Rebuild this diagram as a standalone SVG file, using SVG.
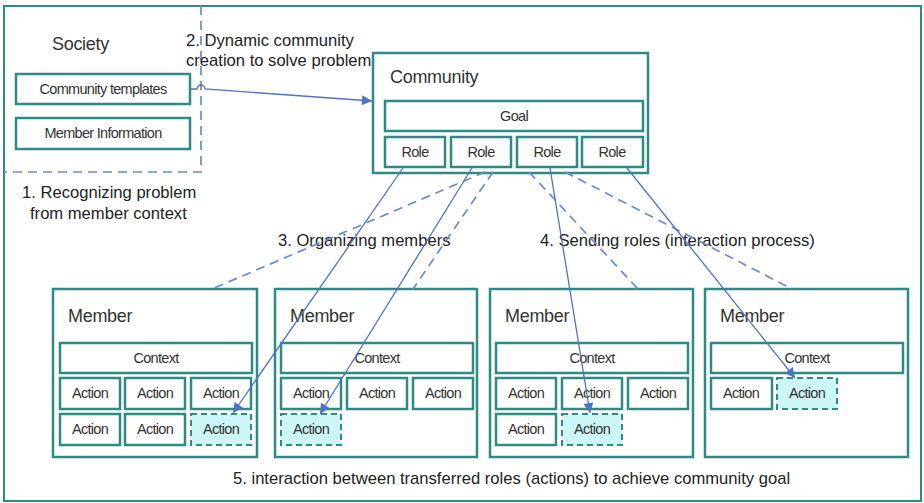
<svg xmlns="http://www.w3.org/2000/svg" width="924" height="503" viewBox="0 0 924 503">
<defs>
<style>
.frame{fill:#fff;stroke:#2e8a84;stroke-width:2}
.box{fill:#fff;stroke:#2e8a84;stroke-width:2.5}
.sel{fill:#cdf7f7;stroke:#2e8a84;stroke-width:2;stroke-dasharray:6 4}
.lbl{font-family:"Liberation Sans",Arial,sans-serif;fill:#333;font-size:14.5px;letter-spacing:-0.7px;text-anchor:middle}
.title{font-family:"Liberation Sans",Arial,sans-serif;fill:#333;font-size:18px;letter-spacing:-0.3px}
.note{font-family:"Liberation Sans",Arial,sans-serif;fill:#222;font-size:16.6px}
.solid{fill:none;stroke:#4d73c2;stroke-width:1.3}
.dash{fill:none;stroke:#6a8bcc;stroke-width:1.7;stroke-dasharray:9 6}
</style>
<marker id="ah" viewBox="0 0 10 10" refX="10" refY="5" markerWidth="14" markerHeight="10" markerUnits="userSpaceOnUse" orient="auto">
<path d="M0,0 L10,5 L0,10 z" fill="#4d73c2"/>
</marker>
</defs>
<rect x="0" y="0" width="924" height="503" fill="#fff"/>
<rect class="frame" x="4" y="6" width="917" height="495"/>

<g id="society">
<path class="dash" d="M201,6 V172 H4"/>
<text class="title" x="52" y="50">Society</text>
</g>
<g id="community-templates">
<rect class="box" x="16" y="74" width="174" height="30"/>
<text class="lbl" x="103" y="94">Community templates</text>
</g>
<g id="member-information">
<rect class="box" x="16" y="118" width="174" height="31"/>
<text class="lbl" x="103" y="138">Member Information</text>
</g>

<g id="labels">
<text class="note" x="186" y="46">2. Dynamic community</text>
<text class="note" x="186" y="66">creation to solve problem</text>
<text class="note" x="22" y="198">1. Recognizing problem</text>
<text class="note" x="30" y="219">from member context</text>
<text class="note" x="278" y="246">3. Organizing members</text>
<text class="note" x="540" y="246">4. Sending roles (interaction process)</text>
<text class="note" x="233" y="484">5. interaction between transferred roles (actions) to achieve community goal</text>
</g>

<g id="community">
<rect class="box" x="373" y="53" width="275" height="120"/>
<text class="title" x="390" y="83">Community</text>
<rect class="box" x="385" y="101" width="258" height="30"/>
<text class="lbl" x="514" y="121">Goal</text>
<rect class="box" x="385" y="137" width="60" height="30"/>
<text class="lbl" x="415" y="157">Role</text>
<rect class="box" x="451" y="137" width="60" height="30"/>
<text class="lbl" x="481" y="157">Role</text>
<rect class="box" x="517" y="137" width="60" height="30"/>
<text class="lbl" x="547" y="157">Role</text>
<rect class="box" x="582" y="137" width="61" height="30"/>
<text class="lbl" x="612" y="157">Role</text>
</g>

<g id="member1">
<rect class="box" x="53" y="289" width="204" height="168"/>
<text class="title" x="68" y="322">Member</text>
<rect class="box" x="60" y="343" width="192" height="30"/>
<text class="lbl" x="156" y="363">Context</text>
<rect class="box" x="60" y="378" width="60" height="31"/><text class="lbl" x="90" y="398">Action</text>
<rect class="box" x="125" y="378" width="60" height="31"/><text class="lbl" x="155" y="398">Action</text>
<rect class="box" x="191" y="378" width="60" height="31"/><text class="lbl" x="221" y="398">Action</text>
<rect class="box" x="60" y="414" width="60" height="31"/><text class="lbl" x="90" y="434">Action</text>
<rect class="box" x="125" y="414" width="60" height="31"/><text class="lbl" x="155" y="434">Action</text>
<rect class="sel" x="191" y="414" width="60" height="31"/><text class="lbl" x="221" y="434">Action</text>
</g>

<g id="member2">
<rect class="box" x="275" y="289" width="202" height="168"/>
<text class="title" x="290" y="322">Member</text>
<rect class="box" x="281" y="343" width="192" height="30"/>
<text class="lbl" x="377" y="363">Context</text>
<rect class="box" x="281" y="378" width="60" height="31"/><text class="lbl" x="311" y="398">Action</text>
<rect class="box" x="347" y="378" width="60" height="31"/><text class="lbl" x="377" y="398">Action</text>
<rect class="box" x="413" y="378" width="60" height="31"/><text class="lbl" x="443" y="398">Action</text>
<rect class="sel" x="281" y="414" width="60" height="31"/><text class="lbl" x="311" y="434">Action</text>
</g>

<g id="member3">
<rect class="box" x="490" y="289" width="203" height="168"/>
<text class="title" x="505" y="322">Member</text>
<rect class="box" x="496" y="343" width="192" height="30"/>
<text class="lbl" x="592" y="363">Context</text>
<rect class="box" x="496" y="378" width="60" height="31"/><text class="lbl" x="526" y="398">Action</text>
<rect class="box" x="562" y="378" width="60" height="31"/><text class="lbl" x="592" y="398">Action</text>
<rect class="box" x="628" y="378" width="60" height="31"/><text class="lbl" x="658" y="398">Action</text>
<rect class="box" x="496" y="414" width="60" height="31"/><text class="lbl" x="526" y="434">Action</text>
<rect class="sel" x="562" y="414" width="60" height="31"/><text class="lbl" x="592" y="434">Action</text>
</g>

<g id="member4">
<rect class="box" x="705" y="289" width="203" height="168"/>
<text class="title" x="720" y="322">Member</text>
<rect class="box" x="711" y="343" width="192" height="30"/>
<text class="lbl" x="807" y="363">Context</text>
<rect class="box" x="711" y="378" width="61" height="31"/><text class="lbl" x="741" y="398">Action</text>
<rect class="sel" x="777" y="378" width="60" height="31"/><text class="lbl" x="807" y="398">Action</text>
</g>

<g id="connectors">
<path class="solid" d="M191,89 L197,89 A4,4 0 0 1 205,89 L372,101" marker-end="url(#ah)"/>
<path class="dash" d="M485,172 L212,289"/>
<path class="dash" d="M493,172 L413,289"/>
<path class="dash" d="M529,172 L638,289"/>
<path class="dash" d="M565,172 L792,289"/>
<path class="solid" d="M403,168 L233,413" marker-end="url(#ah)"/>
<path class="solid" d="M472,168 L320,414" marker-end="url(#ah)"/>
<path class="solid" d="M550,168 L590,413" marker-end="url(#ah)"/>
<path class="solid" d="M627,168 L795,378" marker-end="url(#ah)"/>
</g>
</svg>
